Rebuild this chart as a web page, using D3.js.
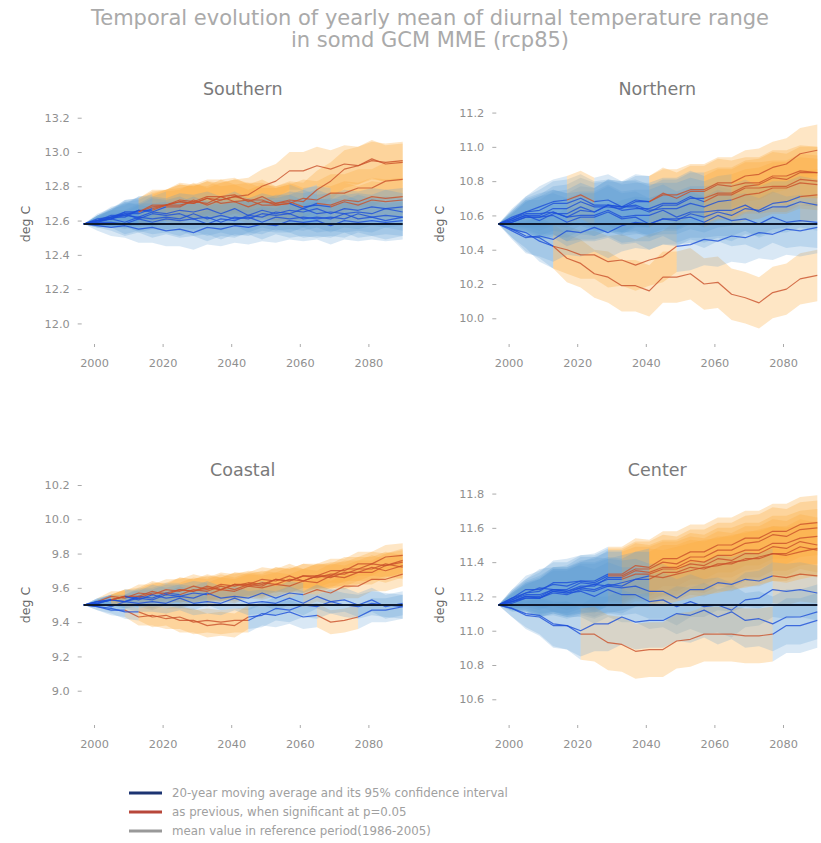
<!DOCTYPE html>
<html>
<head>
<meta charset="utf-8">
<script src="https://cdn.jsdelivr.net/npm/d3@7"></script>
<style>
  html, body { margin: 0; padding: 0; background: #fff; }
  svg { display: block; font-family: "DejaVu Sans", sans-serif; }
</style>
</head>
<body>
<svg id="chart" width="821" height="843"></svg>
<script>
// ---------------- DATA ----------------
const years = [1997, 2001, 2005, 2009, 2013, 2017, 2021, 2025, 2029, 2033, 2037, 2041,
               2045, 2049, 2053, 2057, 2061, 2065, 2069, 2073, 2077, 2081, 2085, 2090];

const panelNames = ["Southern", "Northern", "Coastal", "Center"];
const refMeans = [12.58, 10.55, 9.50, 11.15];

const xTicks = [2000, 2020, 2040, 2060, 2080];
const southernTicks = [12.0, 12.2, 12.4, 12.6, 12.8, 13.0, 13.2];
const northernTicks = [10.0, 10.2, 10.4, 10.6, 10.8, 11.0, 11.2];
const coastalTicks  = [9.0, 9.2, 9.4, 9.6, 9.8, 10.0, 10.2];
const centerTicks   = [10.6, 10.8, 11.0, 11.2, 11.4, 11.6, 11.8];

// half-width of the 95% confidence interval (deg C) at each year
const southernCI = [0, .03, .05, .07, .08, .09, .09, .10, .10, .10, .10, .10, .10, .10, .10, .11, .11, .11, .11, .11, .11, .11, .11, .11];
const northernCI = [0, .05, .09, .12, .13, .14, .14, .14, .15, .15, .15, .15, .15, .15, .15, .15, .15, .15, .15, .15, .15, .15, .15, .15];
const coastalCI  = [0, .02, .03, .04, .05, .06, .06, .07, .07, .07, .07, .07, .07, .07, .07, .07, .07, .07, .07, .07, .07, .07, .07, .07];
const centerCI   = [0, .05, .08, .11, .13, .14, .15, .16, .16, .16, .16, .16, .16, .16, .16, .16, .16, .16, .16, .16, .16, .16, .16, .16];

// 20-year moving averages of each model, as anomalies from the reference-period mean (deg C)
const southernModels = [
  [0, .03, .04, .07, .07, .10, .11, .13, .12, .15, .14, .16, .17, .22, .25, .31, .31, .34, .32, .35, .34, .37, .36, .37],
  [0, .02, .05, .05, .08, .08, .11, .13, .12, .15, .12, .13, .10, .13, .12, .14, .13, .20, .25, .32, .34, .38, .35, .36],
  [0, .02, .03, .06, .06, .09, .11, .11, .13, .12, .16, .13, .14, .11, .11, .12, .15, .14, .18, .18, .21, .21, .25, .26],
  [0, .01, .04, .04, .08, .07, .10, .10, .14, .11, .14, .16, .14, .14, .11, .12, .09, .12, .11, .14, .13, .16, .15, .16],
  [0, .02, .03, .07, .07, .11, .11, .14, .13, .16, .16, .17, .13, .16, .12, .13, .10, .11, .10, .13, .11, .14, .13, .14],
  [0, .02, .03, .05, .04, .07, .06, .08, .07, .09, .06, .09, .05, .08, .06, .08, .07, .09, .06, .09, .08, .10, .09, .10],
  [0, .01, .03, .01, .04, .03, .04, .03, .06, .03, .05, .03, .04, .01, .04, .03, .04, .03, .04, .03, .06, .04, .05, .04],
  [0, -.01, -.02, -.01, -.03, -.02, -.04, -.03, -.05, -.02, -.03, -.01, -.02, .00, -.01, .02, .01, .02, -.01, .02, .01, .02, .01, .02],
  [0, .02, .04, .06, .03, .06, .05, .06, .03, .04, .01, .04, .03, .06, .05, .06, .03, .04, .03, .06, .03, .04, .02, .04],
  [0, .01, .01, .00, .03, .01, .03, .02, .03, .00, .03, .02, .05, .04, .07, .06, .09, .06, .07, .06, .07, .06, .09, .07]
];
const northernModels = [
  [0, -.03, -.05, -.10, -.13, -.20, -.23, -.29, -.31, -.36, -.36, -.39, -.31, -.31, -.29, -.35, -.34, -.41, -.43, -.46, -.40, -.38, -.32, -.30],
  [0, -.03, -.07, -.08, -.13, -.15, -.18, -.18, -.22, -.21, -.24, -.21, -.19, -.13, -.12, -.09, -.10, -.07, -.08, -.05, -.06, -.03, -.04, -.02],
  [0, -.04, -.08, -.07, -.09, -.04, -.05, -.02, -.05, -.01, .01, .00, .03, .02, .06, .04, .07, .05, .09, .08, .12, .13, .16, .17],
  [0, .03, .07, .08, .12, .12, .15, .11, .11, .10, .14, .13, .17, .17, .20, .20, .24, .24, .28, .29, .33, .35, .41, .43],
  [0, .02, .05, .05, .09, .09, .13, .10, .10, .09, .13, .13, .18, .15, .19, .19, .23, .22, .24, .24, .28, .28, .31, .30],
  [0, .01, .04, .04, .07, .04, .08, .07, .11, .08, .09, .09, .12, .12, .16, .13, .17, .17, .21, .21, .22, .22, .26, .25],
  [0, .04, .07, .10, .13, .14, .17, .13, .14, .10, .11, .08, .09, .09, .12, .10, .13, .14, .17, .18, .21, .21, .24, .23],
  [0, .03, .06, .06, .07, .04, .05, .05, .08, .04, .05, .05, .08, .04, .07, .07, .08, .08, .11, .07, .10, .10, .13, .11],
  [0, .01, .04, .04, .05, .01, .04, .04, .07, .03, .04, .00, .03, .03, .04, .01, .05, .02, .03, .00, .04, .01, .02, .01],
  [0, .02, .05, .02, .06, .06, .10, .07, .11, .10, .10, .07, .11, .11, .15, .15, .18, .18, .22, .23, .27, .26, .30, .30]
];
const coastalModels = [
  [0, .02, .05, .04, .07, .06, .09, .08, .11, .09, .12, .11, .13, .12, .15, .14, .17, .17, .20, .20, .24, .24, .28, .29],
  [0, .02, .03, .05, .04, .07, .07, .09, .08, .11, .09, .12, .11, .13, .12, .15, .14, .17, .17, .21, .21, .24, .23, .26],
  [0, .01, .03, .02, .05, .04, .07, .06, .09, .08, .11, .09, .12, .11, .15, .14, .17, .16, .18, .18, .21, .21, .24, .22],
  [0, .02, .03, .05, .05, .08, .06, .09, .08, .10, .09, .12, .12, .15, .14, .17, .14, .17, .16, .19, .19, .22, .20, .23],
  [0, .01, .03, .02, .04, .03, .06, .05, .07, .06, .09, .08, .11, .10, .12, .11, .14, .13, .17, .16, .19, .19, .23, .25],
  [0, .01, .03, .05, .03, .06, .04, .05, .04, .07, .04, .05, .04, .07, .04, .07, .06, .09, .07, .11, .11, .15, .15, .18],
  [0, -.01, -.03, -.03, -.07, -.06, -.08, -.07, -.10, -.09, -.10, -.09, -.09, -.05, -.06, -.04, -.07, -.06, -.10, -.09, -.07, -.03, -.03, -.01],
  [0, -.01, -.02, -.04, -.04, -.07, -.06, -.09, -.09, -.12, -.11, -.12, -.07, -.06, -.02, -.03, .00, -.01, .02, .00, -.01, .01, .00, -.01],
  [0, .01, -.01, .02, .01, .02, .01, .04, .01, .02, .01, .04, .01, .02, .01, .04, .01, .05, .02, .03, .00, .03, -.01, .01]
];
const centerModels = [
  [0, .04, .09, .09, .12, .11, .14, .14, .18, .18, .23, .22, .27, .27, .31, .31, .35, .35, .39, .39, .43, .43, .47, .48],
  [0, .03, .07, .08, .13, .13, .14, .13, .17, .17, .21, .21, .25, .24, .28, .28, .32, .32, .36, .37, .41, .40, .44, .45],
  [0, .02, .05, .05, .09, .08, .11, .11, .16, .16, .20, .19, .22, .22, .26, .25, .29, .29, .32, .32, .36, .36, .39, .40],
  [0, .03, .06, .06, .09, .09, .13, .12, .15, .15, .18, .18, .21, .21, .24, .23, .27, .26, .30, .30, .34, .33, .37, .35],
  [0, .02, .04, .04, .08, .07, .10, .09, .12, .11, .15, .15, .19, .19, .22, .21, .24, .24, .27, .27, .30, .30, .34, .32],
  [0, .01, .04, .04, .07, .06, .09, .08, .11, .10, .11, .08, .08, .04, .09, .09, .13, .12, .15, .14, .17, .16, .18, .17],
  [0, .02, .05, .04, .08, .07, .08, .05, .09, .06, .06, .02, .03, -.01, .02, -.01, .00, -.03, .03, .04, .09, .08, .09, .07],
  [0, -.02, -.05, -.06, -.11, -.12, -.17, -.17, -.22, -.23, -.27, -.26, -.26, -.21, -.20, -.17, -.17, -.17, -.18, -.18, -.17, -.12, -.12, -.09],
  [0, -.02, -.06, -.07, -.12, -.12, -.15, -.11, -.11, -.07, -.10, -.09, -.09, -.05, -.06, -.03, -.07, -.04, -.09, -.08, -.11, -.07, -.07, -.04],
  [0, .04, .07, .10, .09, .08, .10, .12, .11, .13, .15, .17, .16, .18, .20, .22, .23, .25, .26, .28, .30, .29, .31, .33]
];

const legendLabels = [
  "20-year moving average and its 95% confidence interval",
  "as previous, when significant at p=0.05",
  "mean value in reference period(1986-2005)"
];

// ---------------- DRAW ----------------
const svg = d3.select("#chart");
const panels = [
  {name: panelNames[0], ref: refMeans[0], ticks: southernTicks, ci: southernCI, models: southernModels},
  {name: panelNames[1], ref: refMeans[1], ticks: northernTicks, ci: northernCI, models: northernModels},
  {name: panelNames[2], ref: refMeans[2], ticks: coastalTicks,  ci: coastalCI,  models: coastalModels},
  {name: panelNames[3], ref: refMeans[3], ticks: centerTicks,   ci: centerCI,   models: centerModels}
];
const boxes = [
  {left: 82.7, top: 104}, {left: 497.3, top: 104},
  {left: 82.7, top: 485}, {left: 497.3, top: 485}
];
const AW = 320, AH = 240;

const COLORS = {
  bandBlue: "#5b9bd5", bandOrange: "#fbab3e",
  lineBlue: "#1d4fd8", lineRed: "#c9502a",
  ref: "#0f1a30"
};

svg.append("text")
  .attr("x", 430).attr("y", 25)
  .attr("text-anchor", "middle")
  .attr("font-size", 21).attr("fill", "#aaaaaa")
  .text("Temporal evolution of yearly mean of diurnal temperature range");
svg.append("text")
  .attr("x", 430).attr("y", 47)
  .attr("text-anchor", "middle")
  .attr("font-size", 21).attr("fill", "#aaaaaa")
  .text("in somd GCM MME (rcp85)");

panels.forEach((p, pi) => {
  const b = boxes[pi];
  const x = d3.scaleLinear().domain([1996.7, 2090]).range([b.left, b.left + AW]);
  const y = d3.scaleLinear().domain([p.ref - 0.7, p.ref + 0.7]).range([b.top + AH, b.top]);
  const g = svg.append("g");

  g.append("text")
    .attr("x", b.left + AW / 2).attr("y", b.top - 9)
    .attr("text-anchor", "middle")
    .attr("font-size", 17.5).attr("fill", "#7a7a7a")
    .text(p.name);

  const ya = g.append("g")
    .attr("transform", `translate(${b.left - 1},0)`)
    .call(d3.axisLeft(y).tickValues(p.ticks).tickFormat(d3.format(".1f")).tickSize(4).tickPadding(8).tickSizeOuter(0));
  ya.select(".domain").remove();
  ya.selectAll("line").attr("stroke", "#aaa");
  ya.selectAll("text").attr("font-size", 11.3).attr("fill", "#8f8f8f").attr("font-family", "DejaVu Sans");

  const xa = g.append("g")
    .attr("transform", `translate(0,${b.top + AH})`)
    .call(d3.axisBottom(x).tickValues(xTicks).tickFormat(d3.format("d")).tickSize(3).tickPadding(12).tickSizeOuter(0));
  xa.select(".domain").remove();
  xa.selectAll("line").attr("stroke", "#aaa");
  xa.selectAll("text").attr("font-size", 11.3).attr("fill", "#8f8f8f").attr("font-family", "DejaVu Sans");

  g.append("text")
    .attr("transform", `translate(${b.left - 53},${b.top + AH / 2}) rotate(-90)`)
    .attr("text-anchor", "middle")
    .attr("font-size", 12.5).attr("fill", "#666")
    .text("deg C");

  const area = d3.area().x(d => x(d.yr)).y0(d => y(d.v - d.c)).y1(d => y(d.v + d.c));
  const line = d3.line().x(d => x(d.yr)).y(d => y(d.v));

  const bandLayer = g.append("g");
  const lineLayer = g.append("g");

  p.models.forEach(m => {
    const pts = years.map((yr, i) => ({yr, v: p.ref + m[i], a: m[i], c: p.ci[i]}));
    const runs = [];
    for (let i = 0; i < pts.length - 1; i++) {
      const am = (pts[i].a + pts[i + 1].a) / 2;
      const cm = (pts[i].c + pts[i + 1].c) / 2;
      const sig = Math.abs(am) > cm;
      if (runs.length && runs[runs.length - 1].sig === sig) runs[runs.length - 1].end = i + 1;
      else runs.push({sig, start: i, end: i + 1});
    }
    runs.forEach(r => {
      const seg = pts.slice(r.start, r.end + 1);
      bandLayer.append("path")
        .attr("d", area(seg))
        .attr("fill", r.sig ? COLORS.bandOrange : COLORS.bandBlue)
        .attr("fill-opacity", r.sig ? 0.3 : 0.23)
        .attr("stroke", "none");
      lineLayer.append("path")
        .attr("d", line(seg))
        .attr("fill", "none")
        .attr("stroke", r.sig ? COLORS.lineRed : COLORS.lineBlue)
        .attr("stroke-opacity", 0.8)
        .attr("stroke-width", 1.2)
        .attr("stroke-linejoin", "round");
    });
  });

  g.append("line")
    .attr("x1", x(years[0])).attr("x2", x(years[years.length - 1]))
    .attr("y1", y(p.ref)).attr("y2", y(p.ref))
    .attr("stroke", COLORS.ref).attr("stroke-width", 1.8);
});

const legendColors = ["#1c3472", "#b8473a", "#999999"];
legendLabels.forEach((t, i) => {
  const yy = 793 + i * 19;
  svg.append("line")
    .attr("x1", 129).attr("x2", 162).attr("y1", yy).attr("y2", yy)
    .attr("stroke", legendColors[i]).attr("stroke-width", 3);
  svg.append("text")
    .attr("x", 172).attr("y", yy).attr("dy", "0.35em")
    .attr("font-size", 11.8).attr("fill", "#a0a0a0")
    .text(t);
});
</script>
</body>
</html>
